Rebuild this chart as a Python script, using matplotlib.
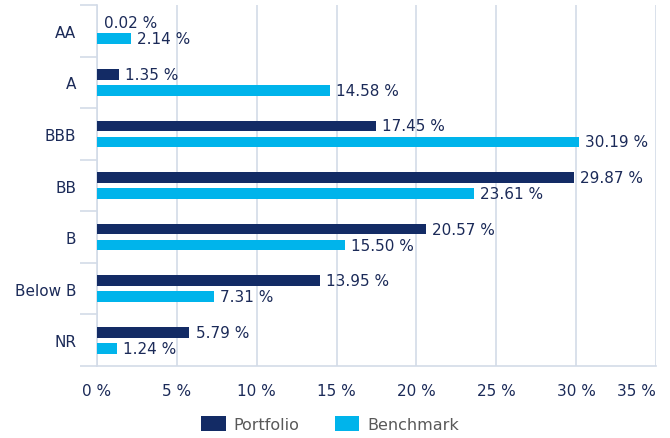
import matplotlib
matplotlib.use("Agg")
import matplotlib.pyplot as plt
from matplotlib.patches import Patch
import numpy as np

categories = ["AA", "A", "BBB", "BB", "B", "Below B", "NR"]
portfolio = [0.02, 1.35, 17.45, 29.87, 20.57, 13.95, 5.79]
benchmark = [2.14, 14.58, 30.19, 23.61, 15.50, 7.31, 1.24]
xticks = [0, 5, 10, 15, 20, 25, 30, 35]
series_names = ["Portfolio", "Benchmark"]

NAVY = "#132b65"
CYAN = "#00b4eb"
TEXT = "#1b2a58"
GRID = "#d3dbe8"

plt.rcParams['font.family'] = ['DejaVu Sans']

fig = plt.figure(figsize=(6.70, 4.39), dpi=100)
ax = fig.add_axes([97/670, 1 - 367/439, (656 - 97)/670, (367 - 6)/439])

y = np.arange(len(categories))
h = 0.21
off = 0.155
ax.barh(y - off, portfolio, height=h, color=NAVY, zorder=3)
ax.barh(y + off, benchmark, height=h, color=CYAN, zorder=3)

for yi, v in zip(y, portfolio):
    ax.annotate(f"{v:.2f} %", (v, yi - off), xytext=(4.5, 0), textcoords="offset points",
                va="center", ha="left", fontsize=11, color=TEXT)
for yi, v in zip(y, benchmark):
    ax.annotate(f"{v:.2f} %", (v, yi + off), xytext=(4.5, 0), textcoords="offset points",
                va="center", ha="left", fontsize=11, color=TEXT)

ax.set_xlim(0, 35)
ax.set_ylim(len(categories) - 0.5, -0.5)
ax.set_xticks(xticks)
ax.set_xticklabels([f"{t} %" for t in xticks])
ax.set_yticks(y)
ax.set_yticklabels(categories)
ax.set_yticks(np.arange(-0.5, len(categories)), minor=True)

ax.tick_params(axis="x", length=0, pad=12, labelsize=11, labelcolor=TEXT)
ax.tick_params(axis="y", which="major", length=0, pad=15, labelsize=11, labelcolor=TEXT)
ax.tick_params(axis="y", which="minor", length=12, width=1.2, color=GRID)
ax.get_xticklabels()[-1].set_horizontalalignment("right")

ax.grid(axis="x", color=GRID, linewidth=1.2, zorder=0)
ax.set_axisbelow(True)
for s in ["top", "right"]:
    ax.spines[s].set_visible(False)
ax.spines["left"].set_color(GRID)
ax.spines["left"].set_linewidth(1.2)
ax.spines["bottom"].set_color(GRID)
ax.spines["bottom"].set_linewidth(1.2)

handles = [Patch(facecolor=NAVY, label=series_names[0]),
           Patch(facecolor=CYAN, label=series_names[1])]
leg = fig.legend(handles=handles, loc="center", bbox_to_anchor=(330/670, 1 - 425/439),
                 ncol=2, frameon=False, fontsize=11.5, handlelength=1.55, handleheight=1.1,
                 columnspacing=2.2, handletextpad=0.5)
for t in leg.get_texts():
    t.set_color("#595959")

fig.savefig("out.png", dpi=100)
